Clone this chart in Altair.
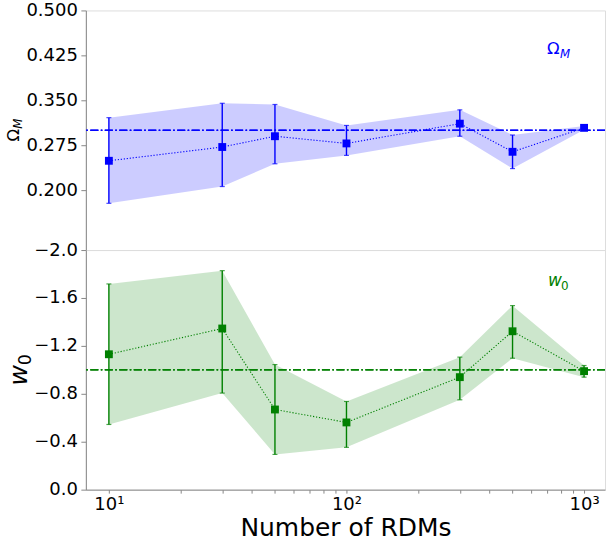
import altair as alt
import pandas as pd

# ---- data ----
n_rdms = [10, 30, 50, 100, 300, 500, 1000]
omega_m = [0.249, 0.272, 0.290, 0.278, 0.311, 0.264, 0.304]
omega_lo = [0.178, 0.206, 0.244, 0.258, 0.290, 0.236, 0.301]
omega_hi = [0.321, 0.345, 0.343, 0.308, 0.334, 0.292, 0.307]
w0 = [-1.130, -1.345, -0.669, -0.561, -0.939, -1.322, -0.989]
w0_lo = [-1.717, -1.828, -1.044, -0.736, -1.106, -1.536, -1.036]
w0_hi = [-0.544, -0.806, -0.294, -0.353, -0.750, -1.097, -0.939]
omega_true = 0.3
w0_true = -1.0
major_ticks = [10, 100, 1000]
minor_ticks = [20, 30, 40, 50, 60, 70, 80, 90, 200, 300, 400, 500, 600, 700, 800, 900]
omega_ticks = [0.2, 0.275, 0.35, 0.425, 0.5]
w0_ticks = [-2.0, -1.6, -1.2, -0.8, -0.4, 0.0]
x_title = "Number of RDMs"

FONT = "DejaVu Sans"
W, H = 520, 240
x_domain = [8.0, 1225.0]

df = pd.DataFrame({
    "n": n_rdms,
    "om": omega_m, "om_lo": omega_lo, "om_hi": omega_hi,
    "w": w0, "w_lo": w0_lo, "w_hi": w0_hi,
})

xscale = alt.Scale(type="log", domain=x_domain, nice=False)


def panel(val, lo, hi, color, ydomain, yticks, yfmt, truth, reverse, show_x):
    if show_x:
        xaxis = alt.Axis(
            values=sorted(major_ticks + minor_ticks),
            labelExpr="datum.value == 10 ? '10\u00b9' : datum.value == 100 ? '10\u00b2' : datum.value == 1000 ? '10\u00b3' : ''",
            title=x_title, titleFontSize=25, titleFont=FONT, titleFontWeight="normal",
            titlePadding=2, labelFontSize=18, labelFont=FONT, tickSize=3.5,
            labelPadding=2, grid=False, labelFlush=False, labelOverlap=False,
        )
    else:
        xaxis = None
    x = alt.X("n:Q", scale=xscale, axis=xaxis)
    yscale = alt.Scale(domain=ydomain, nice=False, zero=False, reverse=reverse)
    yaxis = alt.Axis(values=yticks, format=yfmt, title=None, tickSize=5,
                     labelPadding=3.5, labelFontSize=18, labelFont=FONT, grid=False)
    base = alt.Chart(df)
    band = base.mark_area(color=color, opacity=0.2).encode(
        x=x, y=alt.Y(f"{lo}:Q", scale=yscale, axis=yaxis), y2=f"{hi}:Q")
    ref = base.mark_rule(color=color, opacity=0.6, strokeWidth=1.0,
                         strokeDash=[8, 2.5, 1.5, 2.5]).encode(y=alt.datum(truth))
    line = base.mark_line(color=color, strokeWidth=1.1, strokeDash=[1.2, 1.8]).encode(
        x=x, y=alt.Y(f"{val}:Q"))
    err = base.mark_rule(color=color, strokeWidth=1.4).encode(
        x=x, y=alt.Y(f"{lo}:Q"), y2=f"{hi}:Q")
    cap_lo = base.mark_tick(color=color, orient="horizontal", size=5, thickness=1.2).encode(
        x=x, y=alt.Y(f"{lo}:Q"))
    cap_hi = base.mark_tick(color=color, orient="horizontal", size=5, thickness=1.2).encode(
        x=x, y=alt.Y(f"{hi}:Q"))
    pts = base.mark_point(shape="square", filled=True, size=62, opacity=1, color=color).encode(
        x=x, y=alt.Y(f"{val}:Q"))
    return [band, ref, line, err, cap_lo, cap_hi, pts]


def txt(s, x, y, size, color, style="normal", angle=0, align="left"):
    return alt.Chart(pd.DataFrame({"t": [s]})).mark_text(
        font=FONT, fontSize=size, color=color, fontStyle=style, angle=angle,
        align=align, baseline="alphabetic").encode(
        text="t:N", x=alt.value(x), y=alt.value(y))


top_layers = panel("om", "om_lo", "om_hi", "blue", [0.1, 0.5], omega_ticks, ".3f",
                   omega_true, False, False)
top_layers += [
    txt("\u03a9", 462, 44, 16.5, "blue"),
    txt("M", 475, 47.5, 11.8, "blue", style="italic"),
    txt("\u03a9", -67, 131.4, 16.5, "black", angle=270),
    txt("M", -63.5, 118.6, 11.8, "black", style="italic", angle=270),
]
top = alt.layer(*top_layers).properties(width=W, height=H)

bot_layers = panel("w", "w_lo", "w_hi", "green", [-2.0, 0.0], w0_ticks, ".1f",
                   w0_true, True, True)
bot_layers += [
    txt("w", 463, 36, 17, "green", style="italic"),
    txt("0", 476, 40, 12, "green"),
    txt("w", -59, 135.8, 25, "black", style="italic", angle=270),
    txt("0", -55, 115.3, 17.5, "black", angle=270),
]
bottom = alt.layer(*bot_layers).properties(width=W, height=H)

chart = alt.vconcat(top, bottom, spacing=0, bounds="flush").properties(
    padding={"left": 5, "top": 0, "right": 0, "bottom": 5}
).configure_view(stroke="black", strokeWidth=1.1).configure_axis(
    domain=False, tickColor="black", labelColor="black", titleColor="black", tickWidth=1
).configure(background="white")

chart.save("out.html", embed_options={"renderer": "svg", "actions": False})
